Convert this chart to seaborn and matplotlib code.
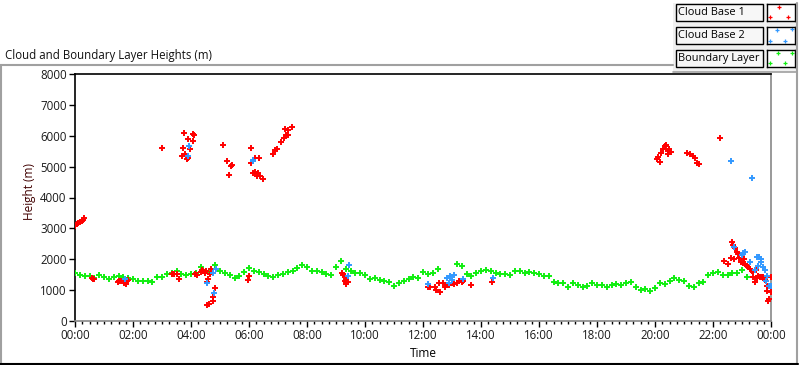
import numpy as np
import matplotlib.pyplot as plt
import seaborn as sns
from matplotlib.lines import Line2D
from matplotlib.patches import Rectangle
from matplotlib.ticker import MultipleLocator

# boundary layer height, one reading every 10 minutes from 00:00 (nan = no reading)
bl_minutes = np.arange(0, 1400, 10)
bl_height = [
    1545, 1480, 1447, 1458, 1400, 1480, 1415, 1371, 1436, 1458,
    1436, 1382, 1350, 1307, 1296, 1296, 1253, 1436, 1415, 1512,
    1566, 1630, 1512, 1501, 1512, 1545, 1739, 1630, 1545, 1814,
    1620, 1566, 1490, 1400, 1470, 1598, 1706, 1630, 1598, 1523,
    1458, 1436, 1490, 1523, 1577, 1609, 1706, 1814, 1739, 1630,
    1630, 1598, 1523, 1490, 1739, 1944, 1674, 1630, 1566, 1566,
    1490, 1350, 1382, 1328, 1307, 1274, 1134, 1220, 1307, 1360,
    1415, 1404, 1598, 1523, 1545, 1674, np.nan, np.nan, np.nan, 1850,
    1796, 1523, 1458, 1566, 1630, 1652, 1630, 1566, 1523, 1523,
    1490, 1630, 1630, 1566, 1587, 1566, 1523, 1458, 1458, 1274,
    1242, 1220, 1112, 1220, 1166, 1091, 1134, 1220, 1166, 1166,
    1112, 1166, 1199, 1166, 1242, 1274, 1091, 1004, 1026, 983,
    1058, 1220, 1199, 1307, 1382, 1328, 1307, 1134, 1091, 1220,
    1274, 1490, 1544, 1598, 1490, 1490, 1566, 1544, 1652, 1436,
]

# cloud base 1 (hours, metres)
cb1_hours = [
    0.00, 0.06, 0.11, 0.17, 0.23, 0.29, 0.32,
    0.57, 0.62, 0.67,
    1.48, 1.52, 1.60, 1.70, 1.75, 1.80, 1.84,
    3.01, 3.35, 3.42, 3.50, 3.59,
    3.68, 3.71, 3.77, 3.80, 3.85, 3.91, 3.91, 3.97, 4.06, 4.08, 4.11,
    4.15, 4.20, 4.33, 4.38, 4.42, 4.47, 4.50,
    4.54, 4.60, 4.66, 4.69, 4.54, 4.63, 4.77, 4.77, 4.83,
    5.11, 5.23, 5.32, 5.38, 5.43,
    5.98, 6.01, 6.06, 6.06, 6.13, 6.21, 6.22, 6.26, 6.30, 6.35, 6.38, 6.49,
    6.82, 6.90, 6.95, 7.10, 7.20, 7.25, 7.28, 7.36, 7.36, 7.47,
    9.20, 9.25, 9.31, 9.31, 9.36, 9.36, 9.36, 9.42,
    12.18, 12.24, 12.41, 12.45, 12.56, 12.59, 12.70, 12.76, 12.82, 12.91,
    12.99, 13.07, 13.16, 13.25, 13.33, 13.39, 13.64, 14.39,
    20.06, 20.11, 20.17, 20.20, 20.29, 20.35, 20.38, 20.44, 20.46, 20.49, 20.54,
    21.11, 21.21, 21.30, 21.38, 21.44, 21.53, 22.24,
    22.38, 22.53, 22.62, 22.67, 22.70, 22.72, 22.76, 22.82, 22.87, 22.91,
    22.95, 23.02, 23.07, 23.10, 23.16, 23.22, 23.28, 23.33, 23.39, 23.39,
    23.45, 23.48, 23.51, 23.56, 23.59, 23.62, 23.68, 23.74, 23.79, 23.85,
    23.85, 23.91, 23.93, 23.99, 24.00,
]
cb1_height = [
    3078, 3143, 3186, 3208, 3230, 3272, 3327,
    1390, 1360, 1370,
    1270, 1300, 1290, 1240, 1200, 1280, 1330,
    5595, 1520, 1530, 1520, 1360,
    5346, 5595, 6080, 5400, 5238, 5890, 5292, 5562, 5839, 6048, 6026,
    1530, 1490, 1600, 1650, 1620, 1560, 1610,
    1273, 1350, 1520, 1675, 518, 540, 658, 787, 1059,
    5702, 5184, 4730, 5022, 5054,
    1328, 1458, 5595, 5108, 4784, 4816, 5270, 4698, 4784, 5270, 4698, 4590,
    5400, 5530, 5584, 5810, 5940, 6210, 6026, 6180, 6026, 6296,
    1544, 1490, 1458, 1307, 1274, 1199, 1350, 1253,
    1091, 1091, 1091, 1004, 1220, 950, 1220, 1112, 1166, 1166,
    1220, 1199, 1242, 1307, 1274, 1307, 1166, 1253,
    5238, 5324, 5162, 5454, 5562, 5670, 5702, 5519, 5400, 5562, 5465,
    5432, 5400, 5346, 5292, 5108, 5076, 5918,
    1944, 1836, 2030, 2549, 2462, 2000, 2354, 2246, 2171, 2030,
    1922, 1890, 1998, 1847, 1782, 1739, 1674, 1631, 1598, 1414,
    1274, 1652, 1382, 1458, 2063, 1436, 1414, 1436, 1328, 1134,
    983, 659, 702, 1436, 950,
]

# cloud base 2 (hours, metres)
cb2_hours = [
    1.72, 3.89, 3.94, 4.56, 4.75, 4.80, 4.86, 6.15, 6.13,
    9.40, 9.45,
    12.18, 12.82, 12.91, 12.93, 12.99, 13.07, 13.37, 14.40,
    22.63, 22.74, 22.99, 23.05, 23.10, 23.28, 23.33, 23.45, 23.53, 23.56,
    23.59, 23.64, 23.64, 23.74, 23.78, 23.83, 23.87, 23.94, 23.99,
]
cb2_height = [
    1350, 5346, 5670, 1241, 1545, 897, 1675, 5216, 5170,
    1458, 1803,
    1188, 1382, 1220, 1458, 1328, 1490, 1350, 1382,
    5173, 2408, 2138, 2214, 2225, 1901, 4622, 1652, 2063, 1782,
    2084, 1998, 1901, 1739, 1652, 1307, 1458, 1134, 1134,
]

series_names = ["Cloud Base 1", "Cloud Base 2", "Boundary Layer"]
series_colors = ["#ff0000", "#3399ff", "#11ee11"]
tick_hours = list(range(0, 25, 2))
tick_labels = ["00:00", "02:00", "04:00", "06:00", "08:00", "10:00", "12:00",
               "14:00", "16:00", "18:00", "20:00", "22:00", "00:00"]

sns.set_style("white")
plt.rcParams['font.family'] = ['Open Sans', 'DejaVu Sans']

W, H = 800, 365
fig = plt.figure(figsize=(8, 3.65), dpi=100)

def fx(px):
    return px / W

def fy(py):
    return 1 - py / H

ax = fig.add_axes([fx(75), fy(321), fx(696), 247 / H])

mk = dict(marker="+", s=15, linewidth=1.4, legend=False, zorder=3)
sns.scatterplot(x=bl_minutes / 60, y=bl_height, color=series_colors[2], ax=ax, **mk)
sns.scatterplot(x=cb1_hours, y=cb1_height, color=series_colors[0], ax=ax, **mk)
sns.scatterplot(x=cb2_hours, y=cb2_height, color=series_colors[1], ax=ax, **mk)

ax.set_xlim(0, 24)
ax.set_ylim(0, 8000)
ax.set_xticks(tick_hours)
ax.set_xticklabels(tick_labels)
ax.xaxis.set_minor_locator(MultipleLocator(0.25))
ax.yaxis.set_major_locator(MultipleLocator(1000))
ax.tick_params(axis="both", which="major", direction="out", length=4, width=1,
               color="black", labelsize=8.3, labelcolor="#1a1a1a", pad=2)
ax.tick_params(axis="x", which="minor", direction="out", length=2.5, width=1, color="black")
ax.tick_params(bottom=True, left=True, which="both")
ax.tick_params(axis="y", which="minor", left=False)

for side in ["top", "left"]:
    ax.spines[side].set_color("black")
    ax.spines[side].set_linewidth(1.2)
for side in ["right", "bottom"]:
    ax.spines[side].set_color("#888888")
    ax.spines[side].set_linewidth(1.2)

ax.set_xlabel("Time", fontsize=8.5, color="black")
ax.xaxis.set_label_coords(0.5, -0.105)
ax.set_ylabel("Height (m)", fontsize=8.5, color="#400000")
ax.yaxis.set_label_coords(-0.056, 0.526)

# outer frame and title
gray = "#a0a0a0"
fig.add_artist(Line2D([fx(0), fx(673)], [fy(65), fy(65)], color=gray, lw=1.5))
fig.add_artist(Line2D([fx(1), fx(1)], [fy(65), fy(363)], color=gray, lw=1.5))
fig.add_artist(Line2D([fx(797), fx(797)], [fy(3), fy(363)], color=gray, lw=1.5))
fig.add_artist(Line2D([fx(0), fx(798)], [fy(363.5), fy(363.5)], color="black", lw=1.5))
fig.text(fx(5), fy(55), "Cloud and Boundary Layer Heights (m)", fontsize=8.3,
         va="center", ha="left", color="#111111")

# legend panel
fig.add_artist(Rectangle((fx(673), fy(72)), fx(124), 69 / H, transform=fig.transFigure,
                         facecolor="#f0f0f0", edgecolor="none", zorder=0))
fig.add_artist(Line2D([fx(673), fx(797)], [fy(72), fy(72)], color=gray, lw=1.2))
swatch_marks = [
    ([0.43, 0.08, 0.79], [0.84, 0.22, 0.22]),
    ([0.35, 0.92, 0.05, 0.64], [0.82, 0.86, 0.19, 0.19]),
    ([0.37, 0.92, 0.08, 0.64], [0.84, 0.84, 0.22, 0.22]),
]
row_tops = [4, 27, 50]
for name, col, top, (sx, sy) in zip(series_names, series_colors, row_tops, swatch_marks):
    fig.add_artist(Rectangle((fx(676), fy(top + 17)), fx(87), 17 / H, transform=fig.transFigure,
                             facecolor="#f7f7f7", edgecolor="black", lw=1.0))
    fig.text(fx(678), fy(top + 8.8), name, fontsize=7.9, va="center", ha="left", color="black")
    sw = fig.add_axes([fx(767), fy(top + 17), fx(28), 17 / H])
    sw.set_xlim(-0.05, 1.05)
    sw.set_ylim(0, 1)
    sw.plot(sx, sy, linestyle="none", marker="+", markersize=3, mew=0.9, color=col)
    sw.set_xticks([])
    sw.set_yticks([])
    for s in sw.spines.values():
        s.set_color("black")
        s.set_linewidth(1.0)

fig.savefig("out.png", dpi=100)
